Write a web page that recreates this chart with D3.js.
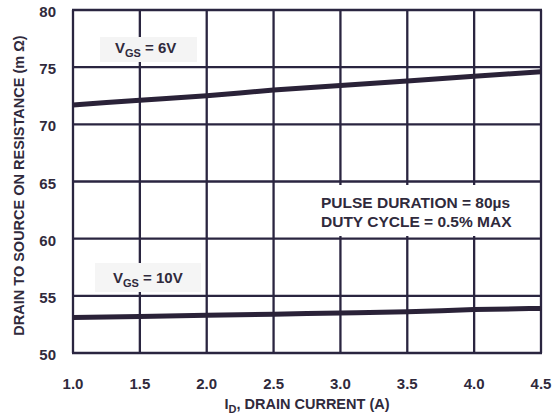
<!DOCTYPE html>
<html>
<head>
<meta charset="utf-8">
<script src="https://cdn.jsdelivr.net/npm/d3@7"></script>
<style>
  body { margin: 0; background: #fff; }
</style>
</head>
<body>
<script>
const width = 560
const height = 419
const margin = {top: 10, right: 19, bottom: 66, left: 73}

const current = [1.0, 1.5, 2.0, 2.5, 3.0, 3.5, 4.0, 4.5]
const rdsVgs6 = [71.7, 72.1, 72.5, 73.0, 73.4, 73.8, 74.2, 74.6]
const rdsVgs10 = [53.1, 53.2, 53.3, 53.4, 53.5, 53.6, 53.8, 53.9]
const xTicks = [1.0, 1.5, 2.0, 2.5, 3.0, 3.5, 4.0, 4.5]
const yTicks = [50, 55, 60, 65, 70, 75, 80]

const colors = {
    grid: '#2a2540',
    curve: '#2a2238',
    text: '#302a3c'
}
const font = '"Liberation Sans", Arial, Helvetica, sans-serif'

const svg = d3.select('body')
    .append('svg')
    .attr('width', width)
    .attr('height', height)
    .attr('font-family', font)
    .attr('font-weight', 700)
    .attr('fill', colors.text)

const x = d3.scaleLinear().domain([1.0, 4.5]).range([margin.left, width - margin.right])
const y = d3.scaleLinear().domain([50, 80]).range([height - margin.bottom, margin.top])

// grid
const grid = svg.append('g')
grid.selectAll('.vgrid')
    .data(xTicks)
    .enter().append('line')
    .attr('x1', d => x(d)).attr('x2', d => x(d))
    .attr('y1', y(80)).attr('y2', y(50))
    .attr('stroke', colors.grid)
    .attr('stroke-width', 2.3)

grid.selectAll('.hgrid')
    .data(yTicks)
    .enter().append('line')
    .attr('x1', x(1.0) - 1).attr('x2', x(4.5) + 1)
    .attr('y1', d => y(d)).attr('y2', d => y(d))
    .attr('stroke', colors.grid)
    .attr('stroke-width', 2.3)

// label backgrounds (cover the grid)
svg.append('rect')
    .attr('x', 100).attr('y', 37).attr('width', 97).attr('height', 25)
    .attr('fill', '#f4f4f4')
svg.append('rect')
    .attr('x', 95).attr('y', 263).attr('width', 106).attr('height', 29)
    .attr('fill', '#f5f5f5')
svg.append('rect')
    .attr('x', 310).attr('y', 185).attr('width', 228).attr('height', 51)
    .attr('fill', '#fff')

// curves
const line = d3.line()
    .x((d, i) => x(current[i]))
    .y(d => y(d))
    .curve(d3.curveMonotoneX)

;[rdsVgs6, rdsVgs10].forEach(series => {
    svg.append('path')
        .datum(series)
        .attr('d', line)
        .attr('fill', 'none')
        .attr('stroke', colors.curve)
        .attr('stroke-width', 5)
})

// tick labels
svg.selectAll('.xtick')
    .data(xTicks)
    .enter().append('text')
    .attr('x', d => x(d))
    .attr('y', 389)
    .attr('text-anchor', 'middle')
    .attr('font-size', 15)
    .text(d => d.toFixed(1))

svg.selectAll('.ytick')
    .data(yTicks)
    .enter().append('text')
    .attr('x', 56)
    .attr('y', d => y(d) + 7)
    .attr('text-anchor', 'end')
    .attr('font-size', 15)
    .text(d => d)

// axis titles
const xt = svg.append('text')
    .attr('x', (x(1.0) + x(4.5)) / 2)
    .attr('y', 409)
    .attr('text-anchor', 'middle')
    .attr('font-size', 14.5)
xt.append('tspan').text('I')
xt.append('tspan').attr('font-size', 11).attr('dy', 4).text('D')
xt.append('tspan').attr('dy', -4).text(', DRAIN CURRENT (A)')

svg.append('text')
    .attr('transform', `translate(24, ${(y(50) + y(80)) / 2 + 4}) rotate(-90)`)
    .attr('text-anchor', 'middle')
    .attr('font-size', 14.5)
    .text('DRAIN TO SOURCE ON RESISTANCE (m Ω)')

// curve labels
const vgsLabel = (px, py, value) => {
    const t = svg.append('text')
        .attr('x', px).attr('y', py)
        .attr('font-size', 15)
    t.append('tspan').text('V')
    t.append('tspan').attr('font-size', 11).attr('dy', 4).text('GS')
    t.append('tspan').attr('dy', -4).text(' = ' + value)
}
vgsLabel(115, 53, '6V')
vgsLabel(113, 283, '10V')

svg.append('text')
    .attr('x', 321).attr('y', 208)
    .attr('font-size', 15.5)
    .text('PULSE DURATION = 80µs')
svg.append('text')
    .attr('x', 321).attr('y', 227)
    .attr('font-size', 15.5)
    .text('DUTY CYCLE = 0.5% MAX')
</script>
</body>
</html>
